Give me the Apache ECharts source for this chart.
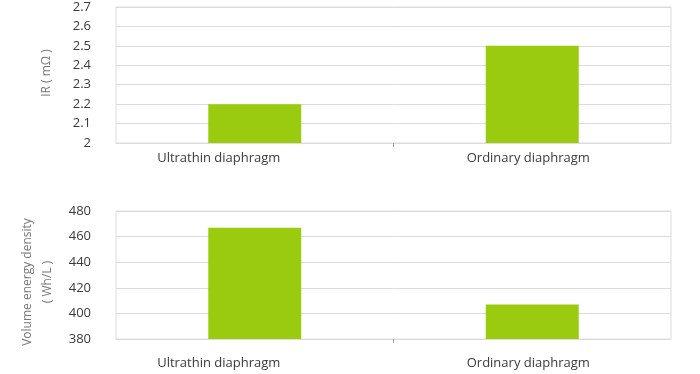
<!DOCTYPE html>
<html><head><meta charset="utf-8">
<script src="https://cdn.jsdelivr.net/npm/echarts@6/dist/echarts.min.js"></script>
<style>html,body{margin:0;padding:0;background:#fff}#c{width:700px;height:374px}</style>
</head><body><div id="c"></div>
<script>
const categories = ['Ultrathin diaphragm', 'Ordinary diaphragm'];
const irValues = [2.2, 2.5];
const densityValues = [467, 407];
const midTickCats = ['', '', ''];

const chart = echarts.init(document.getElementById('c'));
const font = 'Open Sans';
const gridCol = '#dcdcdc';
const barCol = '#9bcb0f';
const labelStyle = {color: '#3a3a3a', fontSize: 13, fontFamily: font};
const nameStyle = {color: '#777', fontSize: 12, fontFamily: font, lineHeight: 20};

function catAxis(gi, margin) {
  return {type: 'category', gridIndex: gi, data: categories,
    axisLine: {lineStyle: {color: gridCol}}, axisTick: {show: false},
    axisLabel: Object.assign({margin: margin,
      formatter: (v, i) => (i === 0 ? '{a|' : '{b|') + v + '}',
      rich: {a: Object.assign({padding: [0, 72, 0, 0]}, labelStyle),
             b: Object.assign({padding: [0, 8, 0, 0]}, labelStyle)}}, labelStyle)};
}
function tickAxis(gi) {
  return {type: 'category', gridIndex: gi, data: midTickCats, boundaryGap: false, position: 'bottom',
    axisLine: {show: false}, axisLabel: {show: false}, splitLine: {show: false},
    axisTick: {show: true, length: 4, interval: (i) => i === 1, lineStyle: {color: '#999'}}};
}

chart.setOption({
  animation: false,
  grid: [
    {left: 116, right: 29, top: 7, height: 136, show: true, borderColor: gridCol, borderWidth: 1},
    {left: 116, right: 29, top: 211, height: 128, show: true, borderColor: gridCol, borderWidth: 1}
  ],
  xAxis: [catAxis(0, 9), catAxis(1, 18), tickAxis(0), tickAxis(1)],
  yAxis: [
    {type: 'value', gridIndex: 0, min: 2, max: 2.7, interval: 0.1,
      name: 'IR ( mΩ )', nameLocation: 'middle', nameGap: 59,
      nameTextStyle: Object.assign({padding: [0, 0, 0, 4]}, nameStyle),
      axisLine: {show: false}, axisTick: {show: false},
      axisLabel: Object.assign({margin: 25, formatter: v => String(Math.round(v * 10) / 10)}, labelStyle),
      splitLine: {lineStyle: {color: gridCol, width: 1}}},
    {type: 'value', gridIndex: 1, min: 380, max: 480, interval: 20,
      name: 'Volume energy density\n( Wh/L )', nameLocation: 'middle', nameGap: 51,
      nameTextStyle: Object.assign({padding: [0, 14, 0, 0]}, nameStyle),
      axisLine: {show: false}, axisTick: {show: false},
      axisLabel: Object.assign({margin: 25}, labelStyle),
      splitLine: {lineStyle: {color: gridCol, width: 1}}}
  ],
  series: [
    {type: 'bar', xAxisIndex: 0, yAxisIndex: 0, data: irValues, barWidth: '33.5%', itemStyle: {color: barCol}},
    {type: 'bar', xAxisIndex: 1, yAxisIndex: 1, data: densityValues, barWidth: '33.5%', itemStyle: {color: barCol}}
  ]
});
</script></body></html>
